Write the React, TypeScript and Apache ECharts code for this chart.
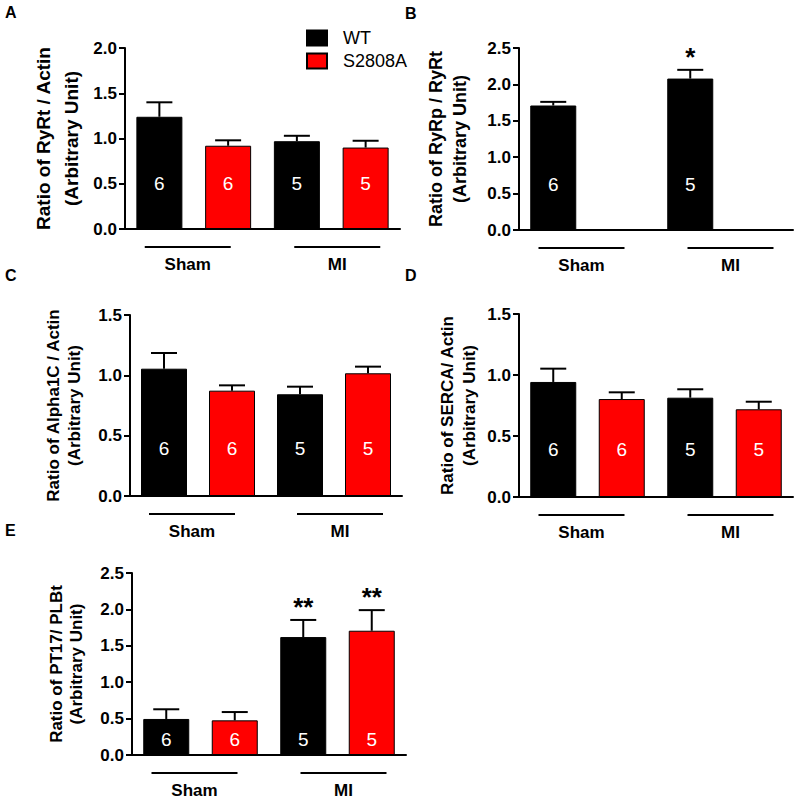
import React, { useEffect, useRef } from "react";
import * as echarts from "echarts";

const FONT = '"Liberation Sans", Arial, Helvetica, sans-serif';

// ---- data ----
const slotNames = ["Sham WT", "Sham S2808A", "MI WT", "MI S2808A"];
const groupNames = ["Sham", "MI"];
const seriesNames = ["WT", "S2808A"];
const panelLetters = ["A", "B", "C", "D", "E"];

const yTitles = [
  "Ratio of RyRt / Actin\n(Arbitrary Unit)",
  "Ratio of RyRp / RyRt\n(Arbitrary Unit)",
  "Ratio of Alpha1C / Actin\n(Arbitrary Unit)",
  "Ratio of SERCA/ Actin\n(Arbitrary Unit)",
  "Ratio of PT17/ PLBt\n(Arbitrary Unit)",
];
const yMax = [2.0, 2.5, 1.5, 1.5, 2.5];

// means / SEM per group (Sham, MI)
const aWtMean = [1.24, 0.97];
const aWtSem = [0.16, 0.06];
const aMutMean = [0.92, 0.9];
const aMutSem = [0.06, 0.075];

const bWtMean = [1.71, 2.08];
const bWtSem = [0.05, 0.12];
const bMutMean: number[] = [];
const bMutSem: number[] = [];

const cWtMean = [1.055, 0.843];
const cWtSem = [0.13, 0.063];
const cMutMean = [0.873, 1.017];
const cMutSem = [0.044, 0.055];

const dWtMean = [0.943, 0.814];
const dWtSem = [0.109, 0.069];
const dMutMean = [0.803, 0.719];
const dMutSem = [0.055, 0.062];

const eWtMean = [0.495, 1.62];
const eWtSem = [0.133, 0.235];
const eMutMean = [0.476, 1.707];
const eMutSem = [0.114, 0.283];

const nWt = [6, 5];
const nMut = [6, 5];

const sigWt = [[], ["", "*"], [], [], ["", "**"]];
const sigMut = [[], [], [], [], ["", "**"]];

const wtMeans = [aWtMean, bWtMean, cWtMean, dWtMean, eWtMean];
const wtSems = [aWtSem, bWtSem, cWtSem, dWtSem, eWtSem];
const mutMeans = [aMutMean, bMutMean, cMutMean, dMutMean, eMutMean];
const mutSems = [aMutSem, bMutSem, cMutSem, dMutSem, eMutSem];

// ---- layout (styling) ----
const grids = [
  { left: 125, top: 48, width: 275, height: 181 },
  { left: 519, top: 48, width: 274, height: 182 },
  { left: 130, top: 315, width: 272, height: 181 },
  { left: 519, top: 314, width: 274, height: 183 },
  { left: 132, top: 573, width: 274, height: 182 },
];
const nameGaps = [40, 47, 45, 39, 46];
const nameFont = [19, 18, 17, 17, 17];
const nameLine = [28, 24, 21, 22, 20];
const labelDist = [36, 36, 38, 38, 6];
const letterPos = [
  [5, 4],
  [405, 5],
  [5, 267],
  [405, 267],
  [5, 522],
];
const colors = ["#000000", "#ff0000"];

function buildOption() {
  const series: any[] = [];
  const xAxis: any[] = [];
  const yAxis: any[] = [];
  for (let p = 0; p < 5; p++) {
    xAxis.push({
      type: "category",
      gridIndex: p,
      data: slotNames,
      boundaryGap: true,
      axisLine: { lineStyle: { color: "#000", width: 2 } },
      axisTick: { show: false },
      axisLabel: { show: false },
      splitLine: { show: false },
    });
    yAxis.push({
      type: "value",
      gridIndex: p,
      min: 0,
      max: yMax[p],
      interval: 0.5,
      name: yTitles[p],
      nameLocation: "middle",
      nameGap: nameGaps[p],
      nameTextStyle: {
        color: "#000",
        fontWeight: "bold",
        fontFamily: FONT,
        fontSize: nameFont[p],
        lineHeight: nameLine[p],
      },
      axisLine: { show: true, lineStyle: { color: "#000", width: 2 } },
      axisTick: { show: true, length: 6, lineStyle: { color: "#000", width: 2 } },
      axisLabel: {
        color: "#000",
        fontWeight: "bold",
        fontFamily: FONT,
        fontSize: 17,
        margin: 8,
        formatter: (v: number) => v.toFixed(1),
      },
      splitLine: { show: false },
    });

    const groupsData = [
      { means: wtMeans[p], sems: wtSems[p], n: nWt, sig: sigWt[p], offset: 0 },
      { means: mutMeans[p], sems: mutSems[p], n: nMut, sig: sigMut[p], offset: 1 },
    ];
    groupsData.forEach((g, si) => {
      const barData = slotNames.map(() => null as any);
      const errData: any[] = [];
      g.means.forEach((m, gi) => {
        const slot = gi * 2 + g.offset;
        barData[slot] = m;
        errData.push([slot, m, m + g.sems[gi], gi]);
      });
      const nArr = g.n;
      series.push({
        type: "bar",
        name: seriesNames[si],
        xAxisIndex: p,
        yAxisIndex: p,
        data: barData,
        barWidth: 46,
        barGap: "-100%",
        itemStyle: { color: colors[si], borderColor: "#000", borderWidth: 1 },
        label: {
          show: true,
          position: "insideBottom",
          distance: labelDist[p],
          color: "#fff",
          fontSize: 19,
          fontFamily: FONT,
          formatter: (prm: any) => String(nArr[Math.floor(prm.dataIndex / 2)]),
        },
        z: 3,
      });
      const sig = g.sig as string[];
      series.push({
        type: "custom",
        xAxisIndex: p,
        yAxisIndex: p,
        data: errData,
        encode: { x: 0, y: 2 },
        z: 4,
        renderItem: (params: any, api: any) => {
          const slot = api.value(0);
          const mean = api.value(1);
          const top = api.value(2);
          const gi = api.value(3);
          const p0 = api.coord([slot, mean]);
          const p1 = api.coord([slot, top]);
          const children: any[] = [
            {
              type: "line",
              shape: { x1: p0[0], y1: p0[1], x2: p1[0], y2: p1[1] },
              style: { stroke: "#000", lineWidth: 2 },
            },
            {
              type: "line",
              shape: { x1: p1[0] - 13, y1: p1[1], x2: p1[0] + 13, y2: p1[1] },
              style: { stroke: "#000", lineWidth: 2 },
            },
          ];
          const s = sig[gi];
          if (s) {
            children.push({
              type: "text",
              x: p1[0],
              y: p1[1] - 13,
              style: {
                text: s,
                fill: "#000",
                font: `bold 26px ${FONT}`,
                align: "center",
                verticalAlign: "middle",
              },
            });
          }
          return { type: "group", children };
        },
      });
    });

    // group underline + label
    series.push({
      type: "custom",
      xAxisIndex: p,
      yAxisIndex: p,
      data: [
        [0, 0, 1, 0],
        [2, 0, 3, 1],
      ],
      encode: { x: 0, y: 1 },
      clip: false,
      renderItem: (params: any, api: any) => {
        const s0 = api.value(0);
        const s1 = api.value(2);
        const gi = api.value(3);
        const pa = api.coord([s0, 0]);
        const pb = api.coord([s1, 0]);
        const cx = (pa[0] + pb[0]) / 2 + (gi === 0 ? -6 : 6);
        const y = pa[1];
        return {
          type: "group",
          children: [
            {
              type: "line",
              shape: { x1: cx - 43, y1: y + 18, x2: cx + 43, y2: y + 18 },
              style: { stroke: "#000", lineWidth: 2 },
            },
            {
              type: "text",
              x: cx,
              y: y + 35,
              style: {
                text: groupNames[gi],
                fill: "#000",
                font: `bold 17px ${FONT}`,
                align: "center",
                verticalAlign: "middle",
              },
            },
          ],
        };
      },
    });
  }

  return {
    animation: false,
    backgroundColor: "#fff",
    grid: grids.map((g) => ({ ...g, containLabel: false })),
    xAxis,
    yAxis,
    series,
    legend: {
      data: seriesNames,
      orient: "vertical",
      left: 306,
      top: 29,
      padding: 0,
      itemWidth: 20,
      itemHeight: 15,
      itemGap: 5,
      icon: "rect",
      textStyle: { color: "#000", fontSize: 18, fontFamily: FONT, padding: [0, 0, 0, 11] },
      selectedMode: false,
    },
    graphic: panelLetters.map((l, i) => ({
      type: "text",
      left: letterPos[i][0],
      top: letterPos[i][1],
      style: { text: l, fill: "#000", font: `bold 16px ${FONT}` },
    })),
  };
}

export default function App() {
  const ref = useRef<HTMLDivElement>(null);
  useEffect(() => {
    if (!ref.current) return;
    const chart = echarts.init(ref.current, undefined, { renderer: "svg" });
    chart.setOption(buildOption() as any);
    return () => chart.dispose();
  }, []);
  return (
    <div
      ref={ref}
      style={{ position: "fixed", left: 0, top: 0, width: 800, height: 800, background: "#fff" }}
    />
  );
}
